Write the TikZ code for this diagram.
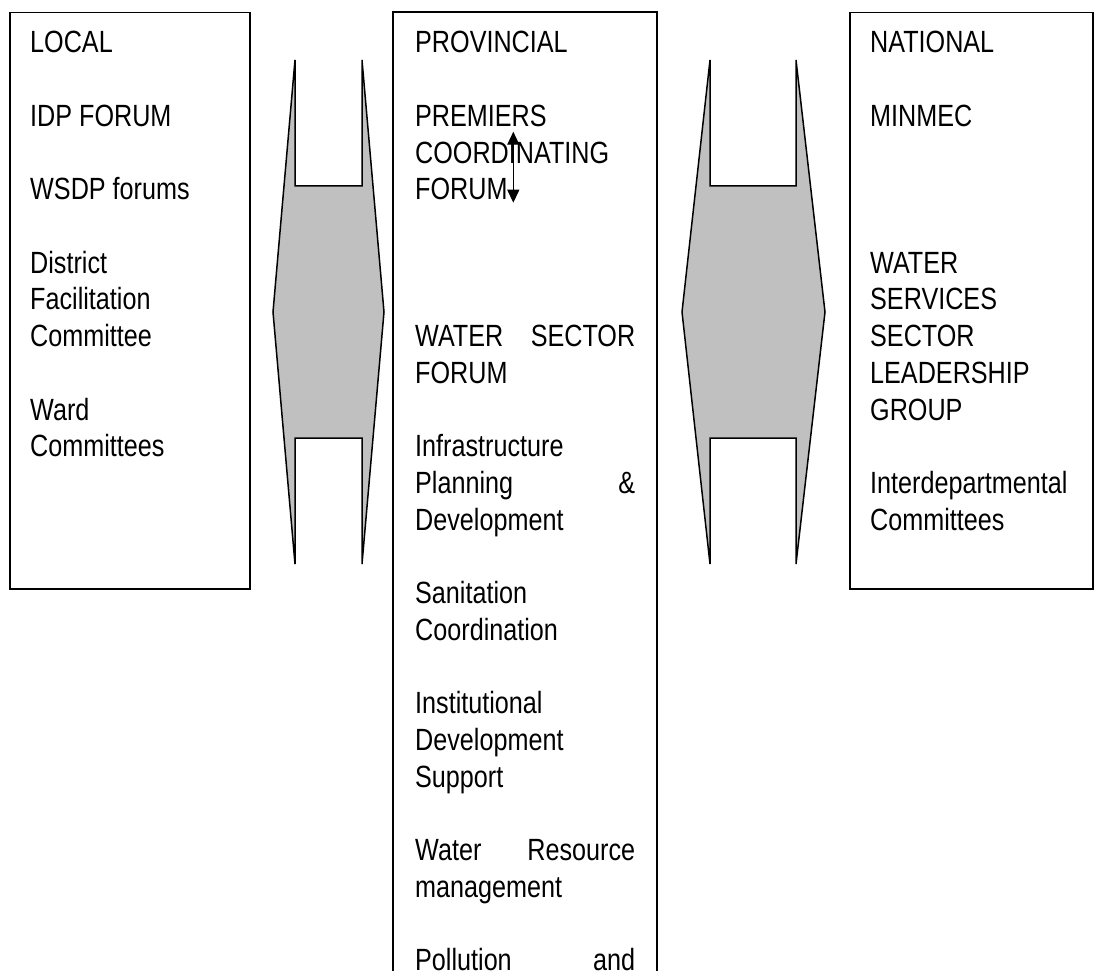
\documentclass[tikz,border=0pt]{standalone}
\usepackage{fontspec}
\setmainfont{Liberation Sans}[FakeStretch=0.82]
\usetikzlibrary{arrows.meta}
\definecolor{shade}{RGB}{192,192,192}
\begin{document}
\begin{tikzpicture}[x=1pt,y=-1pt,
  lbl/.style={anchor=base west, inner sep=0pt, font=\fontsize{30.7}{36.7}\selectfont},
  frame/.style={draw=black, line width=1.5pt},
  linkshape/.style={draw=black, line width=1.5pt, fill=shade, line join=miter},
  vlink/.style={{Triangle[length=13pt,width=12pt]}-{Triangle[length=13pt,width=12pt]}, line width=1.3pt}]
\useasboundingbox (0,0) rectangle (1104,971);
% boxes
\node[frame, minimum width=240pt, minimum height=576pt, anchor=north west, inner sep=0pt] (localbox) at (9,12) {};
\node[frame, minimum width=243pt, minimum height=576pt, anchor=north west, inner sep=0pt] (natbox) at (849,12) {};
\coordinate (pbl) at (393,990);
\coordinate (pbr) at (657,990);
\draw[frame] (pbl) |- (657,12) -- (pbr);
% connecting shapes
\draw[linkshape] (295,60) -- (295,186) -- (362,186) -- (362,60) -- (384,312) -- (362,564) -- (362,438) -- (295,438) -- (295,564) -- (273,312) -- cycle;
\draw[linkshape] (710,60) -- (710,186) -- (796,186) -- (796,60) -- (825,312) -- (796,564) -- (796,438) -- (710,438) -- (710,564) -- (682,312) -- cycle;
% local
\node[lbl] (l0) at (30,53) {LOCAL};
\node[lbl] (l1) at (30,126.4) {IDP FORUM};
\node[lbl] (l2) at (30,199.8) {WSDP forums};
\node[lbl] (l3) at (30,273.2) {District};
\node[lbl] (l4) at (30,309.9) {Facilitation};
\node[lbl] (l5) at (30,346.6) {Committee};
\node[lbl] (l6) at (30,420) {Ward};
\node[lbl] (l7) at (30,456.7) {Committees};
% provincial
\node[lbl] (p0) at (415,53) {PROVINCIAL};
\node[lbl] (p1) at (415,126.4) {PREMIERS};
\node[lbl] (p2) at (415,163.1) {COORDINATING};
\node[lbl] (p3) at (415,199.8) {FORUM};
\node[lbl] (p4) at (415,346.6) {\hbox to 220pt{WATER\hfill SECTOR}};
\node[lbl] (p5) at (415,383.3) {FORUM};
\node[lbl] (p6) at (415,456.7) {Infrastructure};
\node[lbl] (p7) at (415,493.4) {\hbox to 220pt{Planning\hfill \&}};
\node[lbl] (p8) at (415,530.1) {Development};
\node[lbl] (p9) at (415,603.5) {Sanitation};
\node[lbl] (p10) at (415,640.2) {Coordination};
\node[lbl] (p11) at (415,713.6) {Institutional};
\node[lbl] (p12) at (415,750.3) {Development};
\node[lbl] (p13) at (415,787) {Support};
\node[lbl] (p14) at (415,860.4) {\hbox to 220pt{Water\hfill Resource}};
\node[lbl] (p15) at (415,897.1) {management};
\node[lbl] (p16) at (415,970.5) {\hbox to 220pt{Pollution\hfill and}};
% national
\node[lbl] (n0) at (870,53) {NATIONAL};
\node[lbl] (n1) at (870,126.4) {MINMEC};
\node[lbl] (n2) at (870,273.2) {WATER};
\node[lbl] (n3) at (870,309.9) {SERVICES};
\node[lbl] (n4) at (870,346.6) {SECTOR};
\node[lbl] (n5) at (870,383.3) {LEADERSHIP};
\node[lbl] (n6) at (870,420) {GROUP};
\node[lbl] (n7) at (870,493.4) {Interdepartmental};
\node[lbl] (n8) at (870,530.1) {Committees};
% vertical double arrow
\coordinate (atop) at (513.3,131.7);
\coordinate (abot) at (513.3,202.7);
\draw[vlink] (atop) -- (abot);
\end{tikzpicture}
\end{document}
